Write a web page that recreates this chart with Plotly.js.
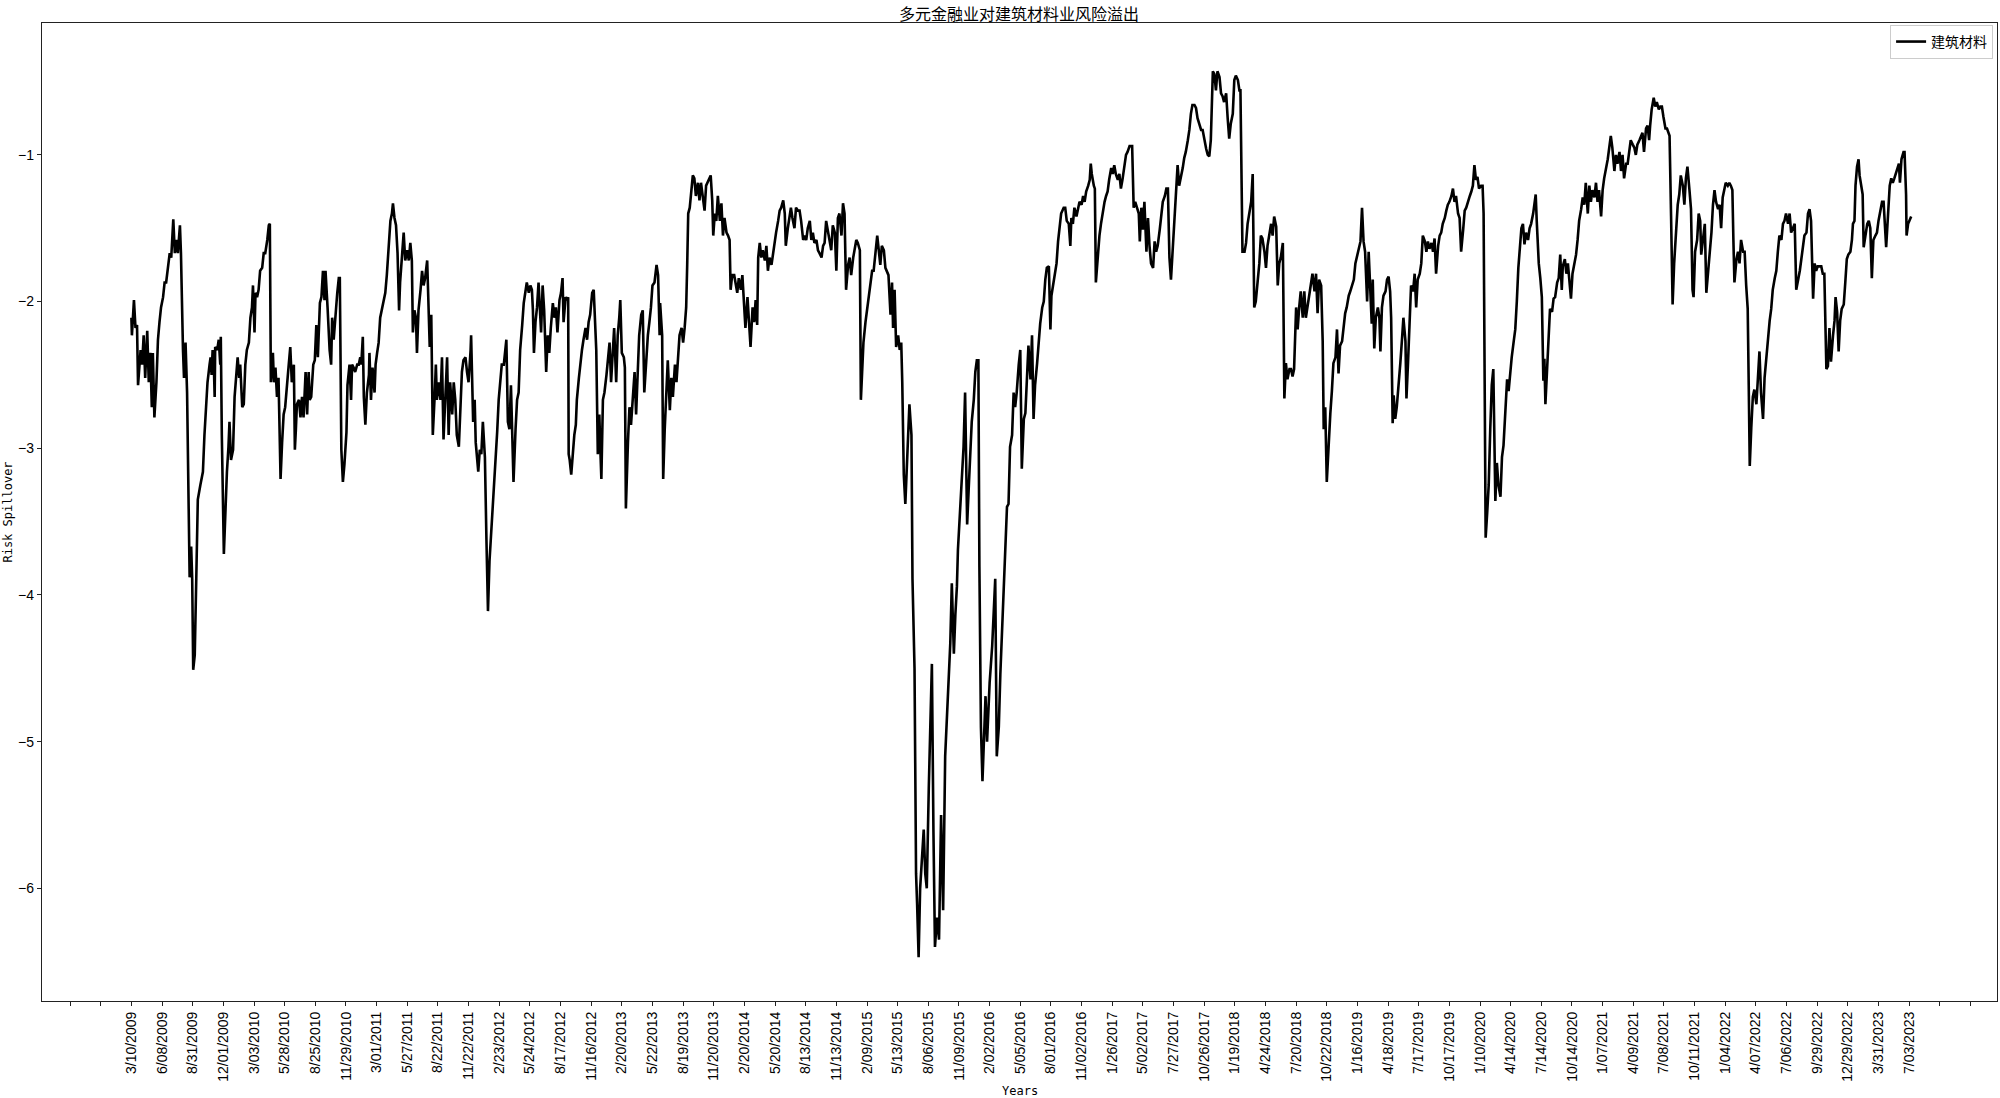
<!DOCTYPE html>
<html>
<head>
<meta charset="utf-8">
<script src="https://cdn.plot.ly/plotly-3.0.1.min.js"></script>
<style>
  html, body { margin: 0; padding: 0; background: #ffffff; }
  #chart { width: 2000px; height: 1098px; }
</style>
</head>
<body>
<div id="chart"></div>
<script>
// Trading-day index (0 = 3/10/2009) and risk spillover value
const dayIndex = [
0,1,5,8,11,13,18,21,24,27,31,34,37,40,42,45,49,52,55,58,62,65,68,72,75,78,82,85,88,91,95,97,99,101,103,106,109,111,114,117,119,121,124,127,130,135,140,143,146,149,153,155,157,159,161,163,164,168,171,174,175,177,181,184,187,190,192,195,199,202,206,208,211,213,217,220,223,226,230,233,236,238,241,243,246,249,252,256,259,262,266,269,271,272,273,277,279,282,285,288,292,295,298,301,305,308,311,314,318,320,322,324,328,331,334,337,341,344,347,349,352,356,359,362,365,369,372,375,378,380,384,388,391,393,396,399,403,406,408,411,414,417,421,423,427,430,432,435,438,442,445,448,450,453,455,458,461,465,466,469,472,476,478,481,484,487,491,494,497,500,504,507,510,512,515,518,521,524,526,530,533,536,540,543,546,549,551,554,557,559,562,566,569,572,575,579,581,584,587,588,590,594,596,598,602,605,608,611,615,618,621,624,628,631,634,637,641,644,647,650,654,657,660,664,665,669,672,674,677,679,682,685,688,692,695,698,701,705,708,711,716,719,722,725,729,732,734,737,740,743,746,748,752,755,758,761,765,768,771,774,778,781,784,786,788,791,794,797,
802,805,808,812,815,818,821,825,828,831,834,838,841,844,846,850,853,855,856,858,861,864,867,870,872,876,879,882,885,889,892,895,898,902,905,908,910,913,916,918,920,923,926,930,933,936,939,942,945,949,952,955,957,960,964,966,968,972,975,978,981,985,988,991,994,998,1001,1004,1007,1011,1014,1017,1020,1024,1028,1031,1034,1035,1039,1041,1044,1047,1050,1054,1057,1060,1064,1067,1070,1073,1077,1080,1083,1086,1088,1090,1093,1096,1099,1102,1105,1109,1112,1115,1118,1122,1125,1128,1131,1134,1137,1139,1142,1145,1148,1152,1155,1158,1161,1165,1168,1171,1173,1176,1180,1183,1186,1189,1193,1196,1199,1202,1206,1209,1212,1216,1219,1222,1225,1227,1230,1233,1236,1240,1243,1246,1249,1253,1256,1259,1262,1266,1269,1272,1276,1279,1281,1285,1288,1291,1294,1298,1301,1305,1308,1311,1315,1318,1321,1324,1328,1331,1334,1337,1341,1344,1347,1351,1354,1357,1360,1364,1367,1370,1373,1377,1380,1383,1386,1390,1393,1396,1399,1403,1406,1409,1413,1416,1419,1422,1426,1428,1431,1433,1437,1440,1443,1446,1450,1453,1456,1460,1463,1466,1469,1473,1476,1479,1482,1486,1489,1491,1494,1497,1501,1504,1507,1509,1512,1515,1518,1521,1523,1527,1529,1533,1536,1538,1541,1544,1548,1551,1554,1557,1561,1564,1567,1570,1573,1577,1581,1585,1589,1593,1597,1600,1603,1606,1610,1613,1616,1618,1623,1626,1629,1632,1636,1639,1642,1645,1649,1652,1655,1658,1660,1663,1666,1670,1672,1675,1680,1685,1688,1691,1694,1698,1701,1704,1707,1711,1714,1717,1720,1724,1727,1730,1733,1737,1740,
1743,1747,1750,1753,1756,1760,1763,1766,1769,1773,1776,1779,1783,1786,1789,1792,1796,1799,1801,1804,1807,1811,1814,1817,1820,1825,1828,1831,1835,1838,1840,1843,1846,1850,1853,1856,1860,1863,1866,1869,1873,1876,1878,1880,1884,1886,1888,1892,1895,1898,1901,1905,1908,1911,1914,1918,1921,1924,1927,1931,1934,1937,1940,1944,1947,1950,1954,1959,1962,1965,1968,1972,1974,1977,1980,1983,1987,1990,1993,1996,2000,2003,2006,2009,2013,2016,2019,2023,2026,2029,2032,2035,2038,2042,2045,2048,2051,2055,2058,2061,2064,2068,2071,2074,2077,2081,2084,2087,2090,2094,2097,2100,2104,2107,2110,2113,2117,2120,2123,2126,2130,2133,2136,2139,2143,2146,2149,2152,2156,2159,2162,2166,2169,2171,2173,2175,2179,2182,2185,2188,2192,2195,2198,2201,2205,2208,2211,2214,2218,2221,2224,2227,2231,2234,2237,2241,2244,2247,2250,2254,2257,2260,2263,2267,2270,2273,2276,2280,2283,2286,2289,2293,2296,2299,2302,2306,2309,2312,2316,2319,2322,2325,2329,2332,2334,2337,2340,2344,2347,2350,2353,2357,2360,2363,2366,2370,2373,2376,2379,2383,2386,2389,2393,2396,2399,2402,2406,2409,2412,2415,2419,2422,2425,2428,2430,2433,2436,2440,2443,2445,2448,2451,2455,2458,2461,2464,2466,2469,2471,2474,2477,2481,2484,2487,2490,2494,2496,2499,2502,2505,2509,2512,2515,2518,2522,2525,2528,2532,2535,2538,2541,2545,2548,2551,2554,2558,2561,2564,2567,2571,2574,2577,2580,2584,2587,2590,2593,2597,2600,2603,2607,2610,2613,2616,2620,2623,2626,2629,2632,2635,2638,2642,2645,2647,2649,2651,2654,2657,2660,2663,2666,2670,2673,2676,2680,2683,2686,2689,2693,2696,2699,2702,2706,2709,2712,2715,2719,
2721,2724,2727,2730,2734,2737,2740,2744,2747,2749,2751,2755,2758,2761,2764,2766,2768,2771,2774,2777,2781,2784,2787,2791,2794,2797,2800,2802,2806,2809,2812,2815,2818,2821,2824,2828,2831,2834,2838,2841,2844,2847,2851,2854,2857,2860,2864,2867,2870,2873,2877,2880,2883,2886,2890,2893,2896,2899,2903,2906,2909,2913,2916,2919,2922,2926,2929,2932,2935,2939,2942,2945,2948,2952,2955,2958,2961,2965,2968,2971,2973,2976,2980,2983,2986,2990,2993,2996,2999,3003,3006,3009,3011,3014,3017,3020,3023,3027,3030,3033,3037,3040,3043,3046,3050,3053,3056,3058,3061,3065,3068,3071,3073,3076,3080,3083,3086,3089,3093,3096,3099,3102,3106,3109,3112,3115,3118,3121,3125,3128,3131,3134,3136,3138,3142,3145,3148,3151,3155,3158,3161,3164,3166,3168,3171,3174,3177,3181,3184,3187,3190,3194,3197,3200,3204,3207,3210,3213,3217,3220,3223,3226,3230,3233,3236,3239,3243,3246,3249,3252,3256,3259,3262,3266,3269,3272,3275,3279,3282,3285,3288,3292,3295,3298,3301,3305,3308,3311,3314,3318,3321,3324,3327,3331,3334,3336,3339,3342,3345,3348,3352,3355,3358,3361,3365,3368,3370,3373,3375,3378,3381,3383,3386,3389,3391,3395,3398,3401,3404,3407,3410,3414,3417,3420,3423,3427,3430,3433,3435,3438,3442,3445,3448,3451,3455,3458,3460,3462,3465,3469,3471,3474,3475,3478,3481,3484
];

const spillover = [
-2.11,-2.23,-1.99,-2.18,-2.16,-2.57,-2.33,-2.43,-2.23,-2.52,-2.20,-2.55,-2.35,-2.72,-2.35,-2.79,-2.55,-2.26,-2.14,-2.04,-1.97,-1.87,-1.87,-1.75,-1.67,-1.70,-1.44,-1.67,-1.58,-1.67,-1.48,-1.67,-2.11,-2.33,-2.52,-2.28,-2.62,-3.33,-3.88,-3.67,-3.89,-4.51,-4.41,-3.89,-3.35,-3.25,-3.16,-2.91,-2.72,-2.55,-2.43,-2.38,-2.50,-2.33,-2.38,-2.65,-2.31,-2.33,-2.26,-2.43,-2.24,-2.91,-3.72,-3.40,-3.16,-2.99,-2.82,-3.08,-3.01,-2.65,-2.43,-2.38,-2.52,-2.43,-2.72,-2.70,-2.43,-2.33,-2.28,-2.11,-2.04,-1.89,-2.21,-1.94,-1.97,-1.92,-1.79,-1.77,-1.67,-1.67,-1.58,-1.48,-1.47,-1.99,-2.55,-2.35,-2.55,-2.45,-2.65,-2.52,-3.21,-2.96,-2.77,-2.72,-2.52,-2.43,-2.31,-2.55,-2.43,-3.01,-2.87,-2.70,-2.67,-2.79,-2.65,-2.79,-2.48,-2.77,-2.48,-2.67,-2.65,-2.43,-2.40,-2.16,-2.38,-2.01,-1.97,-1.79,-1.99,-1.79,-2.04,-2.33,-2.43,-2.11,-2.26,-2.09,-1.94,-1.84,-1.84,-3.01,-3.23,-3.11,-2.89,-2.57,-2.43,-2.67,-2.43,-2.45,-2.48,-2.43,-2.43,-2.38,-2.43,-2.24,-2.65,-2.84,-2.62,-2.50,-2.35,-2.67,-2.45,-2.62,-2.43,-2.35,-2.28,-2.11,-2.04,-1.97,-1.94,-1.82,-1.58,-1.45,-1.40,-1.33,-1.43,-1.48,-1.67,-2.06,-1.87,-1.67,-1.53,-1.72,-1.65,-1.72,-1.60,-1.72,-2.21,-2.06,-2.11,-2.35,-2.06,-1.92,-1.79,-1.89,-1.84,-1.72,-1.99,-2.31,-2.09,-2.28,-2.91,-2.62,-2.43,-2.67,-2.55,-2.67,-2.38,-2.94,-2.55,-2.38,-2.91,-2.55,-2.77,-2.55,-2.67,-2.91,-2.99,-2.72,-2.48,-2.40,-2.38,-2.48,-2.55,-2.33,-2.23,-2.82,-2.67,-2.96,-3.06,-3.16,-3.01,-3.04,-2.82,-3.06,-3.62,-4.11,-3.77,-3.55,-3.40,-3.16,-2.89,-2.67,-2.52,-2.43,-2.43,-2.33,-2.26,-2.82,-2.87,-2.57,-2.91,-3.23,-2.87,-2.67,-2.62,-2.33,-2.16,-2.01,-1.94,-1.87,-1.94,-1.89,-1.92,-2.06,-2.35,-2.14,-2.04,-1.87,
-2.21,-1.89,-2.06,-2.48,-2.23,-2.35,-2.18,-2.01,-2.11,-2.04,-2.21,-1.99,-1.94,-1.84,-2.14,-1.97,-1.99,-1.97,-3.04,-3.08,-3.18,-3.01,-2.91,-2.84,-2.67,-2.52,-2.40,-2.33,-2.26,-2.18,-2.26,-2.14,-2.09,-1.94,-1.92,-2.18,-2.33,-3.04,-2.77,-3.01,-3.21,-2.67,-2.62,-2.50,-2.40,-2.28,-2.55,-2.33,-2.18,-2.55,-2.23,-2.11,-1.99,-2.35,-2.38,-2.45,-3.41,-2.96,-2.72,-2.84,-2.67,-2.48,-2.77,-2.43,-2.23,-2.09,-2.06,-2.62,-2.43,-2.23,-2.14,-2.04,-1.89,-1.87,-1.75,-1.82,-2.23,-2.01,-2.23,-3.21,-2.87,-2.62,-2.40,-2.74,-2.52,-2.65,-2.43,-2.55,-2.40,-2.23,-2.18,-2.28,-2.18,-2.04,-1.75,-1.40,-1.36,-1.26,-1.14,-1.16,-1.28,-1.19,-1.31,-1.19,-1.26,-1.38,-1.21,-1.19,-1.16,-1.14,-1.31,-1.55,-1.40,-1.45,-1.28,-1.45,-1.33,-1.55,-1.43,-1.53,-1.55,-1.58,-1.92,-1.82,-1.82,-1.89,-1.94,-1.84,-1.92,-1.82,-1.97,-2.18,-1.97,-2.11,-2.31,-2.04,-2.14,-1.99,-2.16,-1.70,-1.60,-1.70,-1.65,-1.72,-1.62,-1.79,-1.70,-1.75,-1.67,-1.58,-1.53,-1.45,-1.38,-1.36,-1.31,-1.40,-1.62,-1.50,-1.43,-1.36,-1.43,-1.50,-1.36,-1.38,-1.38,-1.45,-1.58,-1.55,-1.58,-1.50,-1.45,-1.58,-1.53,-1.60,-1.58,-1.65,-1.67,-1.70,-1.62,-1.60,-1.45,-1.53,-1.58,-1.65,-1.48,-1.53,-1.79,-1.43,-1.40,-1.55,-1.33,-1.40,-1.92,-1.75,-1.70,-1.82,-1.70,-1.65,-1.58,-1.60,-1.65,-2.67,-2.43,-2.28,-2.14,-2.06,-1.94,-1.87,-1.79,-1.79,-1.70,-1.55,-1.65,-1.75,-1.62,-1.65,-1.77,-1.79,-1.82,-2.09,-1.87,-2.18,-1.92,-2.31,-2.23,-2.33,-2.28,-2.55,-3.18,-3.38,-3.11,-2.91,-2.70,-2.91,-3.89,-4.50,-5.90,-6.10,-6.47,-6.00,-5.80,-5.60,-5.90,-6.00,-5.30,-4.90,-4.47,-5.60,-6.40,-6.20,-6.35,-5.50,-6.15,-5.10,-4.78,-4.50,-4.33,-3.92,-4.40,-4.13,-3.94,-3.69,-3.40,-3.16,-2.99,-2.62,-3.52,-3.28,-3.08,-2.82,-2.67,-2.48,-2.40,-2.40,-3.81,-4.90,-5.27,-4.95,-4.69,-5.00,-4.60,-4.35,-4.13,-3.89,-5.10,-4.90,-4.54,-4.25,-3.94,-3.64,-3.40,-3.38,-2.99,-2.91,-2.62,-2.72,-2.62,-2.43,-2.33,
-3.14,-2.80,-2.76,-2.49,-2.30,-2.53,-2.23,-2.80,-2.57,-2.42,-2.27,-2.15,-2.04,-2.00,-1.85,-1.77,-1.76,-2.19,-1.96,-1.89,-1.81,-1.74,-1.59,-1.47,-1.40,-1.36,-1.36,-1.45,-1.47,-1.62,-1.43,-1.47,-1.36,-1.42,-1.36,-1.32,-1.34,-1.28,-1.32,-1.25,-1.21,-1.17,-1.06,-1.13,-1.21,-1.23,-1.87,-1.66,-1.55,-1.47,-1.40,-1.32,-1.28,-1.25,-1.17,-1.09,-1.13,-1.07,-1.13,-1.17,-1.13,-1.23,-1.17,-1.06,-1.00,-0.98,-0.94,-0.94,-1.36,-1.32,-1.36,-1.40,-1.59,-1.36,-1.51,-1.32,-1.66,-1.43,-1.62,-1.74,-1.77,-1.59,-1.66,-1.62,-1.51,-1.40,-1.32,-1.28,-1.23,-1.23,-1.70,-1.85,-1.66,-1.47,-1.25,-1.07,-1.21,-1.15,-1.09,-1.02,-0.98,-0.90,-0.83,-0.72,-0.66,-0.66,-0.68,-0.75,-0.79,-0.83,-0.83,-0.90,-0.96,-1.00,-1.01,-0.90,-0.43,-0.45,-0.56,-0.43,-0.47,-0.58,-0.60,-0.64,-0.58,-0.75,-0.89,-0.79,-0.72,-0.49,-0.46,-0.49,-0.56,-0.56,-1.13,-1.66,-1.66,-1.60,-1.47,-1.40,-1.32,-1.13,-2.04,-2.00,-1.85,-1.74,-1.55,-1.57,-1.66,-1.77,-1.62,-1.55,-1.47,-1.55,-1.42,-1.49,-1.89,-1.74,-1.70,-1.60,-2.66,-2.42,-2.53,-2.46,-2.46,-2.51,-2.46,-2.04,-2.19,-2.04,-1.93,-2.11,-1.93,-2.11,-2.04,-1.93,-1.85,-1.81,-1.93,-1.81,-2.08,-1.85,-1.89,-2.27,-2.87,-2.72,-3.23,-2.91,-2.76,-2.61,-2.42,-2.38,-2.19,-2.49,-2.30,-2.27,-2.19,-2.08,-2.04,-1.96,-1.93,-1.89,-1.85,-1.74,-1.70,-1.66,-1.59,-1.36,-1.59,-1.66,-2.00,-1.66,-1.93,-2.15,-1.85,-2.32,-2.11,-2.04,-2.11,-2.34,-2.04,-1.96,-1.93,-1.85,-1.83,-1.93,-2.11,-2.83,-2.64,-2.80,-2.72,-2.57,-2.42,-2.27,-2.11,-2.27,-2.66,-2.42,-2.08,-1.89,-1.93,-1.81,-2.04,-1.85,-1.81,-1.74,-1.55,-1.59,-1.66,-1.59,-1.64,-1.60,-1.66,-1.57,-1.81,-1.62,-1.55,-1.53,-1.47,-1.43,-1.38,-1.34,-1.32,-1.28,-1.23,-1.32,-1.28,-1.40,-1.43,-1.66,-1.51,-1.38,-1.36,-1.32,-1.28,-1.25,-1.21,-1.07,-1.17,-1.15,-1.23,-1.21,-1.21,-1.40,-2.61,-3.61,-3.44,-3.25,-2.87,-2.57,-2.46,-3.36,-3.10,-3.25,-3.33,-3.06,-2.98,-2.80,-2.53,-2.61,-2.46,-2.38,-2.27,-2.19,-2.00,-1.77,-1.59,
-1.50,-1.47,-1.61,-1.53,-1.58,-1.50,-1.47,-1.40,-1.29,-1.27,-1.45,-1.74,-1.84,-1.97,-2.54,-2.39,-2.70,-2.49,-2.34,-2.05,-2.07,-1.98,-1.97,-1.87,-1.84,-1.68,-1.92,-1.76,-1.71,-1.81,-1.74,-1.89,-1.98,-1.81,-1.76,-1.68,-1.58,-1.45,-1.37,-1.29,-1.34,-1.19,-1.40,-1.21,-1.32,-1.24,-1.29,-1.19,-1.32,-1.24,-1.42,-1.24,-1.16,-1.11,-1.03,-0.95,-0.87,-0.95,-1.11,-1.00,-1.06,-0.98,-1.11,-1.00,-1.16,-1.06,-1.06,-0.98,-0.90,-0.93,-0.95,-1.00,-0.93,-0.90,-0.87,-0.85,-0.98,-0.82,-0.80,-0.90,-0.80,-0.69,-0.61,-0.67,-0.64,-0.69,-0.67,-0.67,-0.74,-0.82,-0.82,-0.85,-0.87,-1.42,-2.02,-1.74,-1.58,-1.34,-1.27,-1.14,-1.21,-1.34,-1.16,-1.08,-1.24,-1.37,-1.92,-1.97,-1.66,-1.58,-1.40,-1.45,-1.68,-1.58,-1.47,-1.94,-1.81,-1.71,-1.53,-1.34,-1.24,-1.32,-1.37,-1.34,-1.50,-1.29,-1.24,-1.19,-1.21,-1.19,-1.21,-1.24,-1.58,-1.87,-1.71,-1.66,-1.74,-1.58,-1.66,-1.66,-1.89,-2.05,-2.57,-3.12,-2.86,-2.65,-2.60,-2.70,-2.52,-2.34,-2.62,-2.80,-2.52,-2.39,-2.23,-2.13,-2.05,-1.92,-1.84,-1.79,-1.66,-1.55,-1.58,-1.47,-1.45,-1.40,-1.47,-1.40,-1.53,-1.50,-1.47,-1.92,-1.87,-1.79,-1.71,-1.61,-1.55,-1.53,-1.40,-1.37,-1.45,-1.98,-1.74,-1.79,-1.76,-1.76,-1.76,-1.81,-1.81,-2.46,-2.44,-2.18,-2.41,-2.23,-2.13,-1.97,-2.07,-2.34,-2.13,-2.05,-2.02,-1.87,-1.71,-1.68,-1.66,-1.58,-1.47,-1.45,-1.21,-1.08,-1.03,-1.14,-1.21,-1.27,-1.63,-1.53,-1.47,-1.45,-1.50,-1.84,-1.58,-1.55,-1.53,-1.45,-1.40,-1.32,-1.32,-1.58,-1.63,-1.45,-1.21,-1.16,-1.19,-1.16,-1.11,-1.08,-1.06,-1.19,-1.03,-0.98,-0.98,-1.27,-1.55,-1.47,-1.45,-1.42
];

// Tick labels: one every 60 trading days; the first two and last two ticks are unlabeled
const ticksEvery = 60;
const tickLabels = [
"", "",
"3/10/2009","6/08/2009","8/31/2009","12/01/2009","3/03/2010","5/28/2010","8/25/2010","11/29/2010",
"3/01/2011","5/27/2011","8/22/2011","11/22/2011","2/23/2012","5/24/2012","8/17/2012","11/16/2012",
"2/20/2013","5/22/2013","8/19/2013","11/20/2013","2/20/2014","5/20/2014","8/13/2014","11/13/2014",
"2/09/2015","5/13/2015","8/06/2015","11/09/2015","2/02/2016","5/05/2016","8/01/2016","11/02/2016",
"1/26/2017","5/02/2017","7/27/2017","10/26/2017","1/19/2018","4/24/2018","7/20/2018","10/22/2018",
"1/16/2019","4/18/2019","7/17/2019","10/17/2019","1/10/2020","4/14/2020","7/14/2020","10/14/2020",
"1/07/2021","4/09/2021","7/08/2021","10/11/2021","1/04/2022","4/07/2022","7/06/2022","9/29/2022",
"12/29/2022","3/31/2023","7/03/2023",
"", ""
];
const yTicks = [-6, -5, -4, -3, -2, -1];
const seriesName = "建筑材料";
const chartTitle = "多元金融业对建筑材料业风险溢出";
const xTitle = "Years";
const yTitle = "Risk Spillover";

const tickVals = tickLabels.map((_, i) => (i - 2) * ticksEvery);

const trace = {
  type: "scatter",
  mode: "lines",
  x: dayIndex,
  y: spillover,
  name: seriesName,
  line: { color: "#000000", width: 2.6 },
  hoverinfo: "x+y"
};

const axisCommon = {
  showgrid: false,
  zeroline: false,
  showline: true,
  linecolor: "#222222",
  linewidth: 1.3,
  mirror: true,
  ticks: "outside",
  ticklen: 4,
  tickwidth: 1,
  tickcolor: "#222222",
  automargin: false
};

const layout = {
  width: 2000,
  height: 1098,
  margin: { l: 42, r: 3, t: 23, b: 97, pad: 0 },
  paper_bgcolor: "#ffffff",
  plot_bgcolor: "#ffffff",
  showlegend: true,
  title: {
    text: chartTitle,
    font: { family: "Noto Sans CJK SC", size: 16, color: "#000000" },
    x: 0.5095, xanchor: "center",
    y: 0.9865, yanchor: "middle",
    yref: "container"
  },
  xaxis: Object.assign({}, axisCommon, {
    range: [-175, 3652],
    tickmode: "array",
    tickvals: tickVals,
    ticktext: tickLabels,
    tickangle: -90,
    tickfont: { family: "Liberation Sans, Arial, sans-serif", size: 14, color: "#000000" }
  }),
  yaxis: Object.assign({}, axisCommon, {
    range: [-6.768, -0.101],
    tickmode: "array",
    tickvals: yTicks,
    tickfont: { family: "Liberation Sans, Arial, sans-serif", size: 14, color: "#000000" },
    title: {
      text: yTitle,
      font: { family: "DejaVu Sans Mono, monospace", size: 12, color: "#000000" },
      standoff: 2
    }
  }),
  annotations: [{
    text: xTitle,
    xref: "paper", yref: "paper",
    x: 0.5, xanchor: "center",
    y: -0.0925, yanchor: "middle",
    showarrow: false,
    font: { family: "DejaVu Sans Mono, monospace", size: 12, color: "#000000" }
  }],
  legend: {
    x: 0.998, xanchor: "right",
    y: 0.998, yanchor: "top",
    bgcolor: "rgba(255,255,255,0.85)",
    bordercolor: "#cccccc",
    borderwidth: 1,
    itemwidth: 30,
    font: { family: "Noto Sans CJK SC", size: 14, color: "#000000" }
  }
};

Plotly.newPlot("chart", [trace], layout, { displayModeBar: false, responsive: false });
</script>
</body>
</html>
